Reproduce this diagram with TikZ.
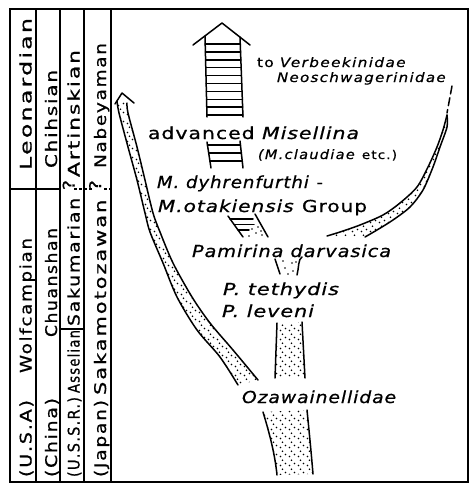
\documentclass[tikz,border=0pt]{standalone}
\usepackage{fontspec}
\setmainfont{DejaVu Sans}[LetterSpace=5, FakeBold=0.7]
\newfontfamily\colfont{DejaVu Sans}[LetterSpace=9, FakeBold=0.7]
\usetikzlibrary{patterns.meta}
\newcommand\fitw[2]{\resizebox{#1pt}{\height}{#2}}
\tikzdeclarepattern{
  name=stip,
  type=uncolored,
  bounding box={(-1pt,-1pt) and (10pt,10pt)},
  tile size={(9pt,9pt)},
  code={
    \fill (1.5pt,1.5pt) circle (0.9pt);
    \fill (6.5pt,3.5pt) circle (0.9pt);
    \fill (3.5pt,6.8pt) circle (0.9pt);
  }
}
\tikzset{
  ln/.style={line width=1.5pt, line cap=round, line join=round},
  framerule/.style={line width=1.6pt},
  stipfill/.style={pattern=stip, pattern color=black},
  coltxt/.style={rotate=90, anchor=base, inner sep=0pt, font=\colfont\fontsize{16}{16}\selectfont},
  bigtxt/.style={anchor=base, inner sep=0pt, font=\fontsize{16.5}{16.5}\selectfont},
  smalltxt/.style={anchor=base, inner sep=0pt, font=\colfont\fontsize{13}{13}\selectfont},
}
\begin{document}
\begin{tikzpicture}[x=1pt,y=-1pt]
\useasboundingbox (0,0) rectangle (472,485);
% ---------- frame and columns ----------
\draw[framerule] (10,9) rectangle (468,482);
\foreach \cx in {36,60,84,111} \draw[framerule] (\cx,9) -- (\cx,482);
\draw[framerule] (10,189) -- (60,189);
\draw[line width=1.2pt, dash pattern=on 2.5pt off 2.5pt] (74,189) -- (93,189);
\draw[line width=1.2pt, dash pattern=on 2.5pt off 2.5pt] (104,189) -- (114,189);
\draw[framerule] (60,329) -- (84,329);
% ---------- column texts ----------
\node[coltxt] (leon) at (31.5,94) {\fitw{152}{Leonardian}};
\node[coltxt] (wolf) at (31.5,305.5) {\fitw{135}{Wolfcampian}};
\node[coltxt] (usa) at (31.5,438.5) {\fitw{77}{(U.S.A)}};
\node[coltxt] (chih) at (57,119) {\fitw{98}{Chihsian}};
\node[coltxt] (chuan) at (57,282.5) {\fitw{109}{Chuanshan}};
\node[coltxt] (china) at (57,437.5) {\fitw{79}{(China)}};
\node[coltxt] (artin) at (79.5,113.5) {\fitw{127}{Artinskian}};
\node[coltxt] (sakum) at (79.5,253) {\fitw{146}{Sakumarian \raisebox{5pt}{?}}};
\node[coltxt] (assel) at (79.5,361.5) {\fitw{63}{Asselian}};
\node[coltxt] (ussr) at (79.5,437) {\fitw{80}{(U.S.S.R.)}};
\node[coltxt] (nabe) at (106,105.5) {\fitw{125}{Nabeyaman}};
\node[coltxt] (sakam) at (106,287.5) {\fitw{215}{Sakamotozawan \raisebox{5pt}{?}}};
\node[coltxt] (japan) at (106,438.5) {\fitw{77}{(Japan)}};
% ---------- main texts ----------
\node[smalltxt] (verb) at (332,67) {\fitw{150}{to \textit{Verbeekinidae}}};
\node[smalltxt] (neos) at (362,82) {\fitw{170}{\textit{Neoschwagerinidae}}};
\node[bigtxt] (advm) at (254,139) {\fitw{212}{advanced \textit{Misellina}}};
\node[smalltxt] (mcla) at (327.5,159) {\fitw{139}{\textit{(M.claudiae} {\fontsize{12}{12}\selectfont etc.)}}};
\node[bigtxt] (mdyh) at (240,188) {\fitw{166}{\textit{M. dyhrenfurthi} -}};
\node[bigtxt] (mota) at (262.5,212) {\fitw{209}{\textit{M.otakiensis} Group}};
\node[bigtxt] (pami) at (292,257) {\fitw{200}{\textit{Pamirina darvasica}}};
\node[bigtxt] (ptet) at (281.5,295) {\fitw{117}{\textit{P. tethydis}}};
\node[bigtxt] (plev) at (268.5,317) {\fitw{93}{\textit{P. leveni}}};
\node[bigtxt] (ozaw) at (319.5,403) {\fitw{155}{\textit{Ozawainellidae}}};
% ---------- big hatched arrow ----------
\draw[ln] (193,45) -- (222,23) -- (250,45);
\draw[ln] (205,36) -- (207,117);
\draw[ln] (240,37) -- (243,117);
\foreach \k in {0,...,9} {
  \pgfmathsetmacro\yy{44+7.9*\k}
  \draw[ln] ({205+2*(\yy-36)/81},\yy) -- ({240+3*(\yy-37)/80},\yy);
}
% ---------- small ladder ----------
\draw[ln] (207,142) -- (211,168);
\draw[ln] (240,141) -- (243,168);
\foreach \yy in {145,153,161}
  \draw[ln] ({207+4*(\yy-142)/26},\yy) -- ({240+3*(\yy-141)/27},\yy);
% ---------- transition segment below Group ----------
\draw[ln] (228,216) -- (243,237);
\draw[ln] (255,214) -- (268,237);
\draw[ln] (230,219) -- (253,219);
\draw[ln] (234,224.5) -- (254,224.5);
\draw[ln] (238,230) -- (249,230);
\foreach \p in {(252,229),(258,227),(256,233),(262,235),(249,236),(261,231)}
  \fill \p circle (0.9pt);
% ---------- segment below Pamirina ----------
\draw[ln] (275,259) -- (280,274);
\draw[ln] (302,257) .. controls (298,259) and (299,268) .. (297,275);
\foreach \p in {(283,261),(292,263),(285,268),(293,271),(288,274),(296,262)}
  \fill \p circle (0.9pt);
% ---------- stem below P. leveni ----------
\fill[stipfill] (277,323) -- (275,378) -- (305,378) -- (302,322) -- cycle;
\draw[ln] (277,323) -- (275,378);
\draw[ln] (302,322) -- (305,378);
% ---------- stem below Ozawainellidae ----------
\fill[stipfill] (263,412) .. controls (270,435) and (275,455) .. (277,475)
  -- (313,474) .. controls (311,450) and (309,430) .. (307,410) -- cycle;
\draw[ln] (263,412) .. controls (270,435) and (275,455) .. (277,475);
\draw[ln] (307,410) .. controls (309,430) and (311,450) .. (313,474);
% ---------- left stippled band ----------
\fill[stipfill] plot[smooth] coordinates {(117,101) (119,113) (128,147) (137,180) (145,213) (150,232) (163,263) (177,297) (197,330) (220,357) (238,385)}
  -- plot[smooth] coordinates {(258,380) (233,350) (210,323) (192,297) (173,263) (160,232) (153,213) (145,180) (137,147) (128,113) (127,103)} -- cycle;
\draw[ln] plot[smooth] coordinates {(117,101) (119,113) (128,147) (137,180) (145,213) (150,232) (163,263) (177,297) (197,330) (220,357) (238,385)};
\draw[ln] plot[smooth] coordinates {(127,103) (128,113) (137,147) (145,180) (153,213) (160,232) (173,263) (192,297) (210,323) (233,350) (258,380)};
\draw[ln] (115,104) -- (122,93) -- (134,103);
% ---------- right stippled band ----------
\fill[stipfill] plot[smooth] coordinates {(447,115) (447,127) (440,147) (433,167) (423,190) (410,207) (393,220) (377,230) (365,237)}
  -- plot[smooth] coordinates {(327,236) (340,232) (360,225) (383,215) (400,203) (417,187) (428,167) (437,147) (443,130) (447,115)} -- cycle;
\draw[ln] plot[smooth] coordinates {(447,115) (447,127) (440,147) (433,167) (423,190) (410,207) (393,220) (377,230) (365,237)};
\draw[ln] plot[smooth] coordinates {(447,115) (443,130) (437,147) (428,167) (417,187) (400,203) (383,215) (360,225) (340,232) (327,236)};
\draw[ln, dash pattern=on 8pt off 4pt] (452,86) -- (447,113);
\end{tikzpicture}
\end{document}
